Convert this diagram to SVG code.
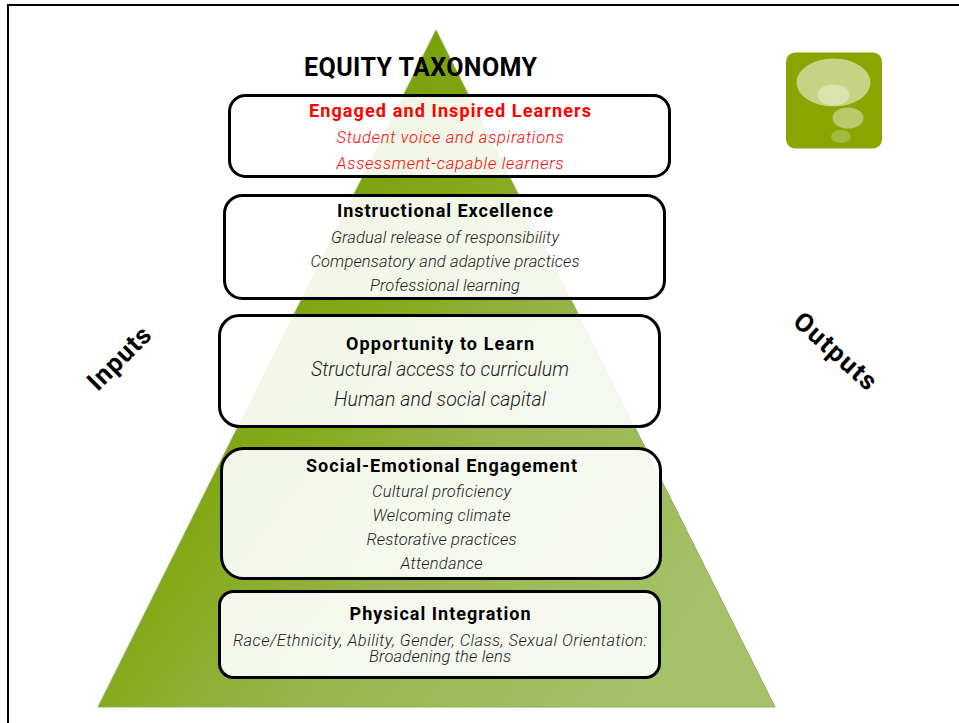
<svg xmlns="http://www.w3.org/2000/svg" width="959" height="723" viewBox="0 0 959 723">
<style>
text{font-family:"Roboto","Liberation Sans",Arial,sans-serif;text-anchor:middle;fill:#1c1c1c}
.h{font-weight:700;font-size:18px;fill:#000}
.i{font-style:italic;font-size:16.500px;font-weight:300}
.b{fill:#fff;fill-opacity:.9;stroke:#000;stroke-width:3}
.t{font-size:25px;font-weight:700;fill:#000}
.s{font-size:26px;font-weight:700;fill:#000}
.l{font-size:19.500px}
text.r{fill:#ff0000}
</style>
<defs>
<linearGradient id="g" gradientUnits="userSpaceOnUse" x1="200" y1="250" x2="700" y2="620">
<stop offset="0" stop-color="#749c00"/><stop offset=".3" stop-color="#85aa1c"/><stop offset=".55" stop-color="#98b44c"/><stop offset="1" stop-color="#a4c26a"/>
</linearGradient>
</defs>
<rect width="959" height="723" fill="#fff"/>
<path d="M8 723V5H959" fill="none" stroke="#000" stroke-width="2"/>
<path id="pyramid" d="M436 30L775 707H98Z" fill="url(#g)" stroke="#8fae5c" stroke-width="1"/>
<text class="t" x="420.500" y="76" textLength="233" lengthAdjust="spacing">EQUITY TAXONOMY</text>
<g id="icon">
<rect x="786" y="52.500" width="96" height="96" rx="9" fill="#8aa500"/>
<ellipse cx="833.500" cy="82.500" rx="37" ry="24" fill="#c6d384"/>
<ellipse cx="833.500" cy="95" rx="16" ry="10.500" fill="#dae3ae"/>
<ellipse cx="848" cy="118" rx="15.500" ry="10.500" fill="#b8ca6c"/>
<ellipse cx="841" cy="136.500" rx="10" ry="6.500" fill="#a2b942"/>
</g>
<g id="node-1">
<rect class="b" x="229.500" y="95.500" width="440" height="81" rx="16"/>
<text class="h r" x="450" y="117" textLength="282" lengthAdjust="spacing">Engaged and Inspired Learners</text>
<text class="i r" x="450" y="143" textLength="227" lengthAdjust="spacing">Student voice and aspirations</text>
<text class="i r" x="450" y="169" textLength="227" lengthAdjust="spacing">Assessment-capable learners</text>
</g>
<g id="node-2">
<rect class="b" x="224.500" y="195.500" width="440" height="103" rx="18"/>
<text class="h" x="445" y="217" textLength="216" lengthAdjust="spacing">Instructional Excellence</text>
<text class="i" x="445" y="243" textLength="228" lengthAdjust="spacing">Gradual release of responsibility</text>
<text class="i" x="445" y="267" textLength="269" lengthAdjust="spacing">Compensatory and adaptive practices</text>
<text class="i" x="445" y="291" textLength="150" lengthAdjust="spacing">Professional learning</text>
</g>
<g id="node-3">
<rect class="b" x="219.500" y="315.500" width="440" height="111" rx="20"/>
<text class="h" x="440" y="350" textLength="188" lengthAdjust="spacing">Opportunity to Learn</text>
<text class="i l" x="440" y="376" textLength="258" lengthAdjust="spacing">Structural access to curriculum</text>
<text class="i l" x="440" y="406" textLength="212" lengthAdjust="spacing">Human and social capital</text>
</g>
<g id="node-4">
<rect class="b" x="221.500" y="448.500" width="439" height="130" rx="22"/>
<text class="h" x="441.500" y="472" textLength="271" lengthAdjust="spacing">Social-Emotional Engagement</text>
<text class="i" x="441.500" y="497" textLength="139" lengthAdjust="spacing">Cultural proficiency</text>
<text class="i" x="441.500" y="521" textLength="138" lengthAdjust="spacing">Welcoming climate</text>
<text class="i" x="441.500" y="545" textLength="150" lengthAdjust="spacing">Restorative practices</text>
<text class="i" x="441.500" y="569" textLength="82" lengthAdjust="spacing">Attendance</text>
</g>
<g id="node-5">
<rect class="b" x="219.500" y="591.500" width="440" height="86" rx="14"/>
<text class="h" x="440" y="620" textLength="181" lengthAdjust="spacing">Physical Integration</text>
<text class="i" x="440" y="646" textLength="414" lengthAdjust="spacing">Race/Ethnicity, Ability, Gender, Class, Sexual Orientation:</text>
<text class="i" x="440" y="662" textLength="142" lengthAdjust="spacing">Broadening the lens</text>
</g>
<text class="s" transform="translate(119 358) rotate(-45)" x="0" y="9" textLength="78" lengthAdjust="spacing">Inputs</text>
<text class="s" transform="translate(835.500 351) rotate(42)" x="0" y="9" textLength="102" lengthAdjust="spacing">Outputs</text>
</svg>
